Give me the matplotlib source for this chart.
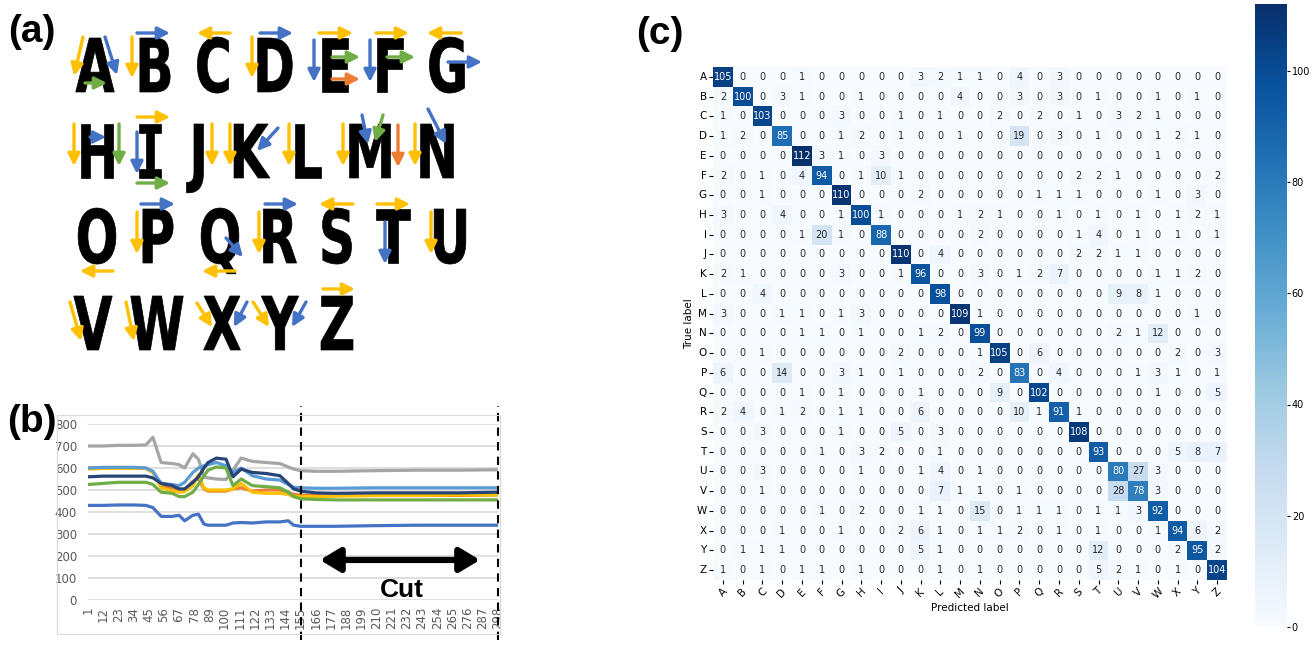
import numpy as np
import matplotlib
matplotlib.use("Agg")
import matplotlib.pyplot as plt
import seaborn as sns
from matplotlib.textpath import TextPath
from matplotlib.font_manager import FontProperties
from matplotlib.patches import PathPatch, FancyArrowPatch, Rectangle, ArrowStyle
from matplotlib.transforms import Affine2D

W, H = 1313, 653

# ---------------- data ----------------
LETTERS = list("ABCDEFGHIJKLMNOPQRSTUVWXYZ")

# confusion matrix rows (true label), columns (predicted label)
CM = [
    [105, 0, 0, 0, 1, 0, 0, 0, 0, 0, 3, 2, 1, 1, 0, 4, 0, 3, 0, 0, 0, 0, 0, 0, 0, 0],
    [2, 100, 0, 3, 1, 0, 0, 1, 0, 0, 0, 0, 4, 0, 0, 3, 0, 3, 0, 1, 0, 0, 1, 0, 1, 0],
    [1, 0, 103, 0, 0, 0, 3, 0, 0, 1, 0, 1, 0, 0, 2, 0, 2, 0, 1, 0, 3, 2, 1, 0, 0, 0],
    [1, 2, 0, 85, 0, 0, 1, 2, 0, 1, 0, 0, 1, 0, 0, 19, 0, 3, 0, 1, 0, 0, 1, 2, 1, 0],
    [0, 0, 0, 0, 112, 3, 1, 0, 3, 0, 0, 0, 0, 0, 0, 0, 0, 0, 0, 0, 0, 0, 1, 0, 0, 0],
    [2, 0, 1, 0, 4, 94, 0, 1, 10, 1, 0, 0, 0, 0, 0, 0, 0, 0, 2, 2, 1, 0, 0, 0, 0, 2],
    [0, 0, 1, 0, 0, 0, 110, 0, 0, 0, 2, 0, 0, 0, 0, 0, 1, 1, 1, 0, 0, 0, 1, 0, 3, 0],
    [3, 0, 0, 4, 0, 0, 1, 100, 1, 0, 0, 0, 1, 2, 1, 0, 0, 1, 0, 1, 0, 1, 0, 1, 2, 1],
    [0, 0, 0, 0, 1, 20, 1, 0, 88, 0, 0, 0, 0, 2, 0, 0, 0, 0, 1, 4, 0, 1, 0, 1, 0, 1],
    [0, 0, 0, 0, 0, 0, 0, 0, 0, 110, 0, 4, 0, 0, 0, 0, 0, 0, 2, 2, 1, 1, 0, 0, 0, 0],
    [2, 1, 0, 0, 0, 0, 3, 0, 0, 1, 96, 0, 0, 3, 0, 1, 2, 7, 0, 0, 0, 0, 1, 1, 2, 0],
    [0, 0, 4, 0, 0, 0, 0, 0, 0, 0, 0, 98, 0, 0, 0, 0, 0, 0, 0, 0, 9, 8, 1, 0, 0, 0],
    [3, 0, 0, 1, 1, 0, 1, 3, 0, 0, 0, 0, 109, 1, 0, 0, 0, 0, 0, 0, 0, 0, 0, 0, 1, 0],
    [0, 0, 0, 0, 1, 1, 0, 1, 0, 0, 1, 2, 0, 99, 0, 0, 0, 0, 0, 0, 2, 1, 12, 0, 0, 0],
    [0, 0, 1, 0, 0, 0, 0, 0, 0, 2, 0, 0, 0, 1, 105, 0, 6, 0, 0, 0, 0, 0, 0, 2, 0, 3],
    [6, 0, 0, 14, 0, 0, 3, 1, 0, 1, 0, 0, 0, 2, 0, 83, 0, 4, 0, 0, 0, 1, 3, 1, 0, 1],
    [0, 0, 0, 0, 1, 0, 1, 0, 0, 0, 1, 0, 0, 0, 9, 0, 102, 0, 0, 0, 0, 0, 1, 0, 0, 5],
    [2, 4, 0, 1, 2, 0, 1, 1, 0, 0, 6, 0, 0, 0, 0, 10, 1, 91, 1, 0, 0, 0, 0, 0, 0, 0],
    [0, 0, 3, 0, 0, 0, 1, 0, 0, 5, 0, 3, 0, 0, 0, 0, 0, 0, 108, 0, 0, 0, 0, 0, 0, 0],
    [0, 0, 0, 0, 0, 1, 0, 3, 2, 0, 0, 1, 0, 0, 0, 0, 0, 0, 0, 93, 0, 0, 0, 5, 8, 7],
    [0, 0, 3, 0, 0, 0, 0, 1, 0, 0, 1, 4, 0, 1, 0, 0, 0, 0, 0, 0, 80, 27, 3, 0, 0, 0],
    [0, 0, 1, 0, 0, 0, 0, 0, 0, 0, 0, 7, 1, 1, 0, 1, 0, 0, 0, 0, 28, 78, 3, 0, 0, 0],
    [0, 0, 0, 0, 0, 1, 0, 2, 0, 0, 1, 1, 0, 15, 0, 1, 1, 1, 0, 1, 1, 3, 92, 0, 0, 0],
    [0, 0, 0, 1, 0, 0, 1, 0, 0, 2, 6, 1, 0, 1, 1, 2, 0, 1, 0, 1, 0, 0, 1, 94, 6, 2],
    [0, 1, 1, 1, 0, 0, 0, 0, 0, 0, 5, 1, 0, 0, 0, 0, 0, 0, 0, 12, 0, 0, 0, 2, 95, 2],
    [1, 0, 1, 0, 1, 1, 0, 1, 0, 0, 0, 1, 0, 1, 0, 0, 0, 0, 0, 5, 2, 1, 0, 1, 0, 104],
]

# panel (b): sample index and traces
SAMPLE_X = [1, 12, 23, 34, 43, 48, 54, 62, 67, 71, 77, 81, 85, 88, 94, 101, 106, 112,
            120, 130, 140, 146, 150, 155, 166, 180, 210, 240, 270, 298]
gray_trace = [700, 700, 703, 703, 705, 740, 625, 620, 615, 600, 665, 640, 560, 555, 550, 548, 590, 645,
              630, 625, 620, 605, 595, 588, 585, 585, 588, 590, 590, 592]
orange_trace = [600, 600, 600, 600, 598, 580, 520, 510, 495, 500, 540, 550, 505, 495, 495, 495, 505, 510,
                495, 500, 500, 490, 480, 477, 475, 475, 475, 475, 475, 478]
yellow_trace = [595, 598, 598, 598, 598, 580, 510, 495, 490, 492, 520, 570, 510, 500, 500, 500, 505, 530,
                490, 485, 485, 480, 470, 470, 470, 472, 475, 475, 478, 478]
lightblue_trace = [600, 603, 603, 603, 600, 585, 530, 525, 520, 535, 580, 600, 610, 615, 625, 610, 580, 600,
                   565, 550, 545, 525, 512, 510, 508, 508, 510, 510, 510, 510]
navy_trace = [560, 563, 563, 563, 563, 555, 530, 520, 505, 505, 535, 560, 600, 625, 645, 640, 560, 595,
              580, 575, 565, 530, 505, 495, 487, 485, 487, 487, 487, 490]
green_trace = [525, 530, 535, 535, 535, 525, 490, 485, 470, 470, 490, 525, 565, 590, 605, 600, 520, 550,
               520, 515, 510, 490, 470, 460, 457, 455, 455, 455, 455, 455]
blue_trace = [430, 430, 432, 432, 430, 420, 380, 380, 385, 360, 385, 390, 345, 340, 340, 340, 350, 352,
              350, 355, 355, 360, 340, 335, 335, 335, 338, 340, 340, 340]
CUT_START, CUT_END = 155, 298

# panel (a): letter layout and stroke arrows (pixel space of the panel)
LETTER_ROWS = ["ABCDEFG", "HIJKLMN", "OPQRSTU", "VWXYZ"]
LETTER_X = [[95, 155, 213, 275, 335, 390, 447],
            [97, 150, 195, 252, 308, 370, 437],
            [97, 158, 220, 280, 337, 393, 450],
            [93, 157, 222, 280, 337]]
ROW_BASE = [92, 178, 263, 350]

YEL, BLU, GRN, ORG = "#FFC000", "#4472C4", "#70AD47", "#ED7D31"
STROKES = [
    (YEL, 83, 37, 74, 76), (BLU, 105, 37, 117, 75), (GRN, 85, 83, 107, 83),
    (BLU, 137, 33, 170, 33), (YEL, 132, 37, 132, 78),
    (YEL, 230, 33, 197, 33),
    (BLU, 260, 33, 293, 33), (YEL, 252, 37, 252, 78),
    (YEL, 319, 33, 353, 33), (BLU, 314, 40, 314, 82), (GRN, 332, 57, 360, 57), (ORG, 332, 79, 360, 79),
    (YEL, 376, 33, 409, 33), (BLU, 370, 40, 370, 82), (GRN, 387, 57, 415, 57),
    (YEL, 461, 33, 427, 33), (BLU, 448, 62, 482, 62),
    (YEL, 74, 124, 74, 166), (BLU, 90, 137, 106, 137), (GRN, 119, 124, 119, 166),
    (YEL, 137, 117, 170, 117), (BLU, 137, 132, 137, 174), (GRN, 137, 183, 170, 183),
    (YEL, 212, 124, 212, 166),
    (YEL, 230, 124, 230, 166), (BLU, 278, 128, 257, 151),
    (YEL, 289, 124, 289, 166),
    (YEL, 343, 124, 343, 166), (BLU, 362, 115, 368, 144), (GRN, 383, 115, 375, 142), (ORG, 398, 125, 398, 167),
    (YEL, 415, 124, 415, 166), (BLU, 428, 109, 446, 144),
    (YEL, 113, 271, 80, 271),
    (BLU, 141, 204, 175, 204), (YEL, 137, 212, 137, 254),
    (BLU, 226, 238, 243, 257), (YEL, 235, 271, 202, 271),
    (BLU, 265, 204, 298, 204), (YEL, 259, 212, 259, 254),
    (YEL, 353, 204, 319, 204),
    (YEL, 377, 204, 410, 204), (BLU, 385, 222, 385, 264),
    (YEL, 431, 212, 431, 254),
    (YEL, 70, 302, 81, 341),
    (YEL, 126, 302, 134, 341),
    (YEL, 197, 303, 212, 327), (BLU, 247, 302, 234, 327),
    (YEL, 253, 302, 269, 327), (BLU, 306, 302, 292, 327),
    (YEL, 323, 289, 355, 289),
]

NARROW = ["Liberation Sans Narrow", "Liberation Sans", "DejaVu Sans"]

fig = plt.figure(figsize=(W / 100, H / 100), dpi=100)


def px_axes(left, top, right, bottom):
    return fig.add_axes([left / W, 1 - bottom / H, (right - left) / W, (bottom - top) / H])


# ---------------- (a) letters with stroke arrows ----------------
ax_a = px_axes(0, 0, 660, 380)
ax_a.set_xlim(0, 660)
ax_a.set_ylim(380, 0)
ax_a.axis("off")

fp = FontProperties(family="DejaVu Sans", weight="bold")
fp_serif_i = FontProperties(family="DejaVu Sans Mono", weight="bold")
cap = TextPath((0, 0), "H", size=1, prop=fp).get_extents().height
sy = 54 / cap
sx = sy * 0.68
for row, xs, base in zip(LETTER_ROWS, LETTER_X, ROW_BASE):
    for ch, cx in zip(row, xs):
        tp = TextPath((0, 0), ch, size=1, prop=fp_serif_i if ch == "I" else fp)
        ext = tp.get_extents()
        tr = Affine2D().scale(sx, -sy).translate(cx - (ext.x0 + ext.x1) / 2 * sx, base)
        ax_a.add_patch(PathPatch(tr.transform_path(tp), fc="black", ec="black", lw=0.5))

style = ArrowStyle("-|>", head_length=0.9, head_width=0.45)
for color, x0, y0, x1, y1 in STROKES:
    ax_a.add_patch(FancyArrowPatch((x0, y0), (x1, y1), arrowstyle=style, mutation_scale=8,
                                   lw=2.4, color=color, shrinkA=0, shrinkB=0, zorder=3))

# ---------------- (b) traces ----------------
ax_b = px_axes(88, 424, 498, 600)
traces = [(gray_trace, "#A5A5A5"), (orange_trace, "#ED7D31"), (yellow_trace, "#FFC000"),
          (lightblue_trace, "#5B9BD5"), (navy_trace, "#264478"), (green_trace, "#70AD47"),
          (blue_trace, "#4472C4")]
for vals, c in traces:
    ax_b.plot(SAMPLE_X, vals, color=c, lw=2.3, solid_capstyle="round")
ax_b.set_xlim(1, 298)
ax_b.set_ylim(0, 800)
ax_b.set_yticks(range(0, 801, 100))
ax_b.set_xticks(range(1, 299, 11))
ax_b.tick_params(length=0, labelsize=8.5, labelcolor="#595959")
ax_b.tick_params(axis="x", rotation=90, pad=5)
ax_b.tick_params(axis="y", pad=8)
ax_b.yaxis.grid(True, color="#D9D9D9", lw=1.2)
ax_b.set_axisbelow(True)
for s in ax_b.spines.values():
    s.set_visible(False)
for xc in (CUT_START, CUT_END):
    ax_b.axvline(xc, ymin=-0.23, ymax=1.1, color="black", ls=(0, (4, 3)), lw=1.5, clip_on=False)
ax_b.annotate("", xy=(CUT_END - 13, 182), xytext=(CUT_START + 14, 182),
              arrowprops=dict(arrowstyle="<|-|>,head_length=1.0,head_width=0.6", lw=4.5,
                              color="black", shrinkA=0, shrinkB=0, mutation_scale=12))
ax_b.text((CUT_START + CUT_END) / 2 + 2, 45, "Cut", ha="center", va="center",
          fontsize=19, fontweight="bold", family=NARROW)
fig.patches.append(Rectangle((57 / W, 1 - 634 / H), 443 / W, 219 / H, transform=fig.transFigure,
                             fill=False, ec="#D9D9D9", lw=0.8))

# ---------------- (c) confusion matrix ----------------
ax_c = px_axes(713, 67, 1227, 580)
cax = px_axes(1255, 4, 1287, 627)
sns.heatmap(np.array(CM), annot=True, fmt="d", cmap="Blues", vmin=0, vmax=112,
            ax=ax_c, cbar_ax=cax, xticklabels=LETTERS, yticklabels=LETTERS,
            annot_kws={"size": 7})
ax_c.tick_params(labelsize=7.5, length=3, pad=1.5)
plt.setp(ax_c.get_xticklabels(), rotation=45)
plt.setp(ax_c.get_yticklabels(), rotation=0)
ax_c.set_xlabel("Predicted label", fontsize=7.5, labelpad=2)
ax_c.set_ylabel("True label", fontsize=7.5, labelpad=2)
cax.tick_params(labelsize=7, length=2.5, pad=1)

# panel labels
for lbl, x, y in (("(a)", 8, 42), ("(b)", 7, 432), ("(c)", 636, 44)):
    fig.text(x / W, 1 - y / H, lbl, fontsize=28, fontweight="bold", family=NARROW,
             va="baseline", ha="left")

fig.savefig("out.png", dpi=100)
